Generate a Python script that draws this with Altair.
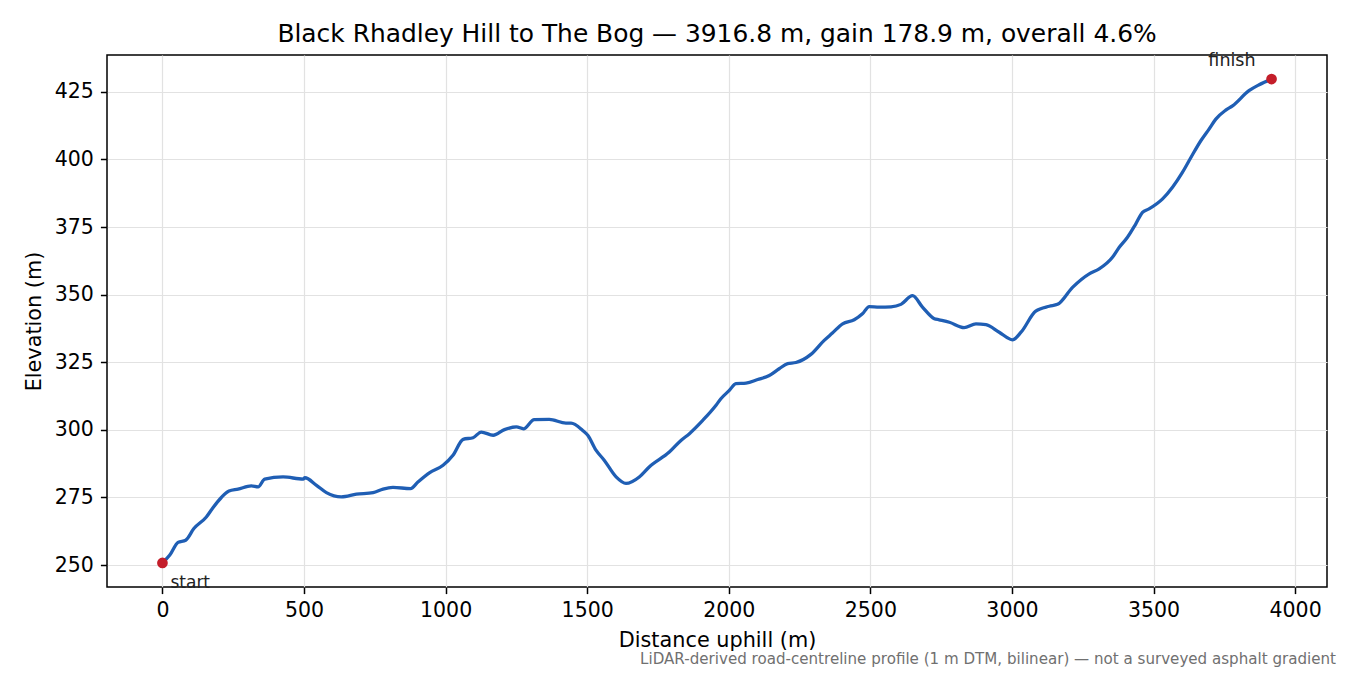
import altair as alt
import pandas as pd

# profile (distance uphill m, elevation m)
dist = [0, 26, 55, 82, 111, 155, 179, 208, 235, 267, 314, 338, 361, 426, 497, 503,
        544, 579, 632, 685, 744, 779, 814, 876, 903, 944, 991, 1026, 1062, 1097,
        1126, 1168, 1208, 1250, 1275, 1313, 1366, 1425, 1443, 1484, 1502, 1531,
        1560, 1602, 1637, 1684, 1719, 1790, 1831, 1861, 1908, 1955, 1972, 2002,
        2025, 2061, 2102, 2143, 2178, 2208, 2237, 2290, 2337, 2366, 2402, 2443,
        2472, 2496, 2531, 2573, 2608, 2649, 2684, 2726, 2743, 2779, 2831, 2873,
        2908, 2955, 3002, 3032, 3084, 3132, 3161, 3214, 3273, 3308, 3355, 3379,
        3408, 3437, 3461, 3484, 3532, 3567, 3602, 3632, 3667, 3696, 3720, 3755,
        3779, 3837, 3873, 3916.8]
elev = [250.8, 253.7, 258.4, 259.2, 263.5, 267.8, 271.3, 275.0, 277.4, 278.1, 279.3,
        278.9, 281.8, 282.6, 281.8, 282.3, 279.5, 276.8, 275.2, 276.2, 276.8, 278.1,
        278.7, 278.3, 280.8, 284.2, 286.9, 290.6, 296.5, 297.1, 299.2, 298.0, 300.1,
        301.1, 300.4, 303.8, 303.9, 302.5, 302.5, 299.8, 298.0, 292.5, 288.8, 282.6,
        280.2, 282.6, 286.3, 291.8, 296.1, 298.6, 303.5, 309.1, 311.5, 314.6, 317.1,
        317.3, 318.6, 320.1, 322.6, 324.5, 324.9, 327.9, 333.1, 335.8, 339.2, 340.7,
        342.9, 345.6, 345.4, 345.5, 346.4, 349.6, 345.4, 341.1, 340.7, 339.8, 337.8,
        339.2, 338.9, 336.1, 333.3, 336.1, 343.9, 345.7, 346.4, 352.7, 357.7, 359.5,
        363.8, 367.5, 371.2, 376.1, 380.4, 381.7, 385.4, 389.7, 395.2, 400.7, 406.9,
        411.2, 414.9, 418.2, 419.8, 425.4, 427.6, 429.7]

ends = ['start', 'finish']
end_dist = [dist[0], dist[-1]]
end_elev = [elev[0], elev[-1]]

title = "Black Rhadley Hill to The Bog \u2014 3916.8 m, gain 178.9 m, overall 4.6%"
note = "LiDAR-derived road-centreline profile (1 m DTM, bilinear) \u2014 not a surveyed asphalt gradient"

profile = pd.DataFrame({'dist': dist, 'elev': elev})
endpts = pd.DataFrame({'label': ends, 'dist': end_dist, 'elev': end_elev})

FONT = "DejaVu Sans"
xs = alt.Scale(domain=[-195.8, 4112.6], nice=False, zero=False)
ys = alt.Scale(domain=[241.9, 438.6], nice=False, zero=False)

xenc = alt.X('dist:Q', scale=xs, title='Distance uphill (m)',
             axis=alt.Axis(values=list(range(0, 4001, 500)), format='d'))
yenc = alt.Y('elev:Q', scale=ys, title='Elevation (m)',
             axis=alt.Axis(values=list(range(250, 426, 25)), format='d'))

line = alt.Chart(profile).mark_line(color='#1f5eb4', strokeWidth=3.3,
                                    interpolate='monotone').encode(
    x=xenc, y=yenc, order='dist:Q'
)

dots = alt.Chart(endpts).mark_circle(color='#c41e2a', size=115, opacity=1).encode(
    x='dist:Q', y='elev:Q'
)

start_lbl = alt.Chart(endpts[endpts.label == 'start']).mark_text(
    align='left', baseline='alphabetic', dx=8, dy=25, fontSize=17, font=FONT,
    color='#222222'
).encode(x='dist:Q', y='elev:Q', text='label:N')

finish_lbl = alt.Chart(endpts[endpts.label == 'finish']).mark_text(
    align='right', baseline='alphabetic', dx=-16, dy=-13, fontSize=17.5, font=FONT,
    color='#222222'
).encode(x='dist:Q', y='elev:Q', text='label:N')

footer = alt.Chart(pd.DataFrame({'t': [note]})).mark_text(
    align='right', baseline='alphabetic', fontSize=15.1, font=FONT, color='#707070'
).encode(x=alt.value(1229), y=alt.value(608.5), text='t:N')

chart = alt.layer(line, dots, start_lbl, finish_lbl, footer).properties(
    width=1220, height=532,
    title=alt.TitleParams(title, fontSize=24.9, font=FONT, fontWeight='normal',
                          color='black', baseline='alphabetic', frame='group',
                          offset=13, dy=28),
    autosize=alt.AutoSizeParams(type='none'),
    padding={'left': 99, 'top': 47, 'right': 15, 'bottom': 80},
).configure_view(
    stroke='black', strokeWidth=1.5
).configure_axis(
    grid=True, gridColor='#e2e2e2', gridWidth=1.2,
    domain=False, ticks=True, tickColor='black', tickWidth=1.5, tickSize=6.6,
    labelFont=FONT, labelFontSize=20.5, labelColor='black', labelPadding=7,
    titleFont=FONT, titleFontSize=20.8, titleColor='black', titleFontWeight='normal',
).configure_axisX(
    titlePadding=9
).configure_axisY(
    titlePadding=10
)

chart.save("out.html", embed_options={"renderer": "svg", "actions": False})
